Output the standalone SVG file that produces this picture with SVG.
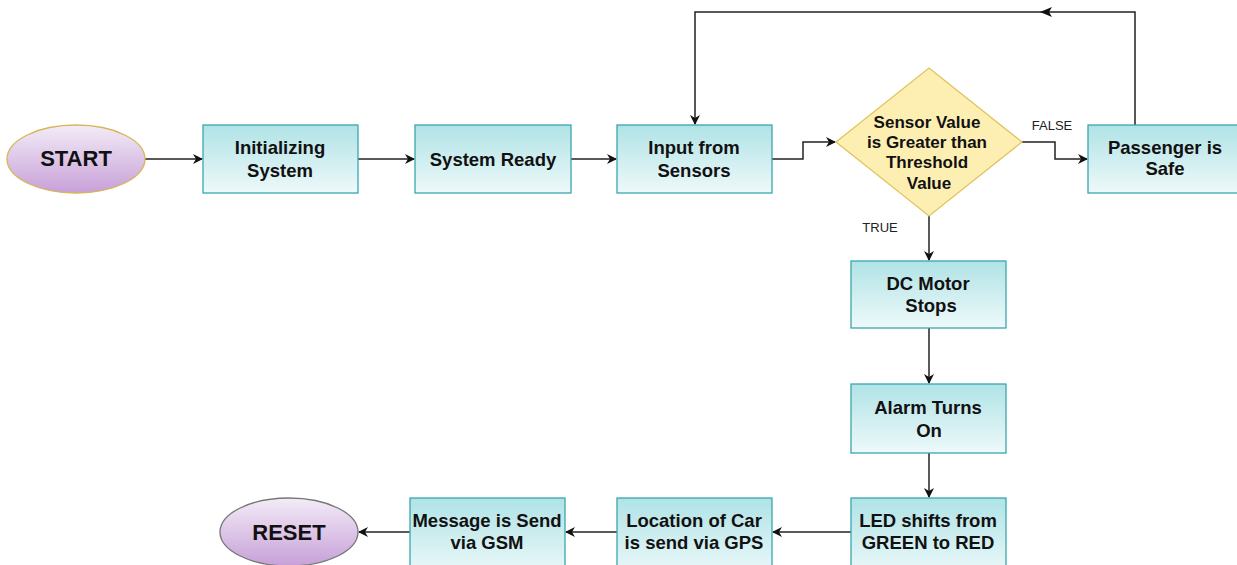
<svg xmlns="http://www.w3.org/2000/svg" width="1237" height="565" viewBox="0 0 1237 565">
<defs>
<linearGradient id="gBox" x1="0" y1="0" x2="0" y2="1">
<stop offset="0" stop-color="#b0e3e6"/>
<stop offset="1" stop-color="#eef9fa"/>
</linearGradient>
<linearGradient id="gOval" x1="0" y1="0" x2="0" y2="1">
<stop offset="0" stop-color="#f3ecf7"/>
<stop offset="1" stop-color="#c7a0d8"/>
</linearGradient>
<marker id="arr" viewBox="0 0 10 10" refX="9" refY="5" markerWidth="10" markerHeight="10" markerUnits="userSpaceOnUse" orient="auto">
<path d="M0,0 L10,5 L0,10 L3,5 Z" fill="#111"/>
</marker>
</defs>
<style>
.box{fill:url(#gBox);stroke:#3aa6ad;stroke-width:1.3}
.oval{fill:url(#gOval);stroke-width:1.3}
.dia{fill:#fdefb2;stroke:#e0c460;stroke-width:1.3}
.t{font-family:"Liberation Sans",Arial,sans-serif;font-weight:bold;font-size:18.5px;fill:#111;text-anchor:middle}
.tb{font-size:22px}
.ts{font-size:17px}
.lbl{font-family:"Liberation Sans",Arial,sans-serif;font-size:13px;fill:#222;text-anchor:middle}
.c{fill:none;stroke:#222;stroke-width:1.5;marker-end:url(#arr)}
</style>
<rect width="1237" height="565" fill="#ffffff"/>
<g id="connectors">
<path class="c" d="M145,159 L202,159"/>
<path class="c" d="M358,159 L414,159"/>
<path class="c" d="M571,159 L616,159"/>
<path class="c" d="M772,159 L803,159 L803,142 L835,142"/>
<path class="c" d="M1022,142 L1055,142 L1055,159 L1087,159"/>
<path class="c" d="M1135,125 L1135,12 L695,12 L695,124"/>
<path d="M1040,12 L1052,7 L1049,12 L1052,17 Z" fill="#111"/>
<path class="c" d="M929,216 L929,260"/>
<path class="c" d="M929,328 L929,383"/>
<path class="c" d="M929,453 L929,497"/>
<path class="c" d="M851,532 L773,532"/>
<path class="c" d="M617,532 L566,532"/>
<path class="c" d="M410,532 L359,532"/>
<text class="lbl" x="1052" y="130">FALSE</text>
<text class="lbl" x="880" y="232">TRUE</text>
</g>
<g id="start">
<ellipse class="oval" cx="76" cy="159" rx="69" ry="34" stroke="#d6b656"/>
<text class="t tb" x="76" y="166">START</text>
</g>
<g id="init">
<rect class="box" x="203" y="125" width="155" height="68"/>
<text class="t" x="280" y="154">Initializing</text>
<text class="t" x="280" y="177">System</text>
</g>
<g id="ready">
<rect class="box" x="415" y="125" width="156" height="68"/>
<text class="t" x="493" y="166">System Ready</text>
</g>
<g id="input">
<rect class="box" x="617" y="125" width="155" height="68"/>
<text class="t" x="694" y="154">Input from</text>
<text class="t" x="694" y="177">Sensors</text>
</g>
<g id="decision">
<path class="dia" d="M929,68 L1022,142 L929,216 L836,142 Z"/>
<text class="t ts" x="927" y="128">Sensor Value</text>
<text class="t ts" x="927" y="148">is Greater than</text>
<text class="t ts" x="927" y="168">Threshold</text>
<text class="t ts" x="929" y="189">Value</text>
</g>
<g id="safe">
<rect class="box" x="1088" y="125" width="160" height="68"/>
<text class="t" x="1165" y="154">Passenger is</text>
<text class="t" x="1165" y="175">Safe</text>
</g>
<g id="motor">
<rect class="box" x="851" y="261" width="155" height="67"/>
<text class="t" x="928" y="290">DC Motor</text>
<text class="t" x="931" y="312">Stops</text>
</g>
<g id="alarm">
<rect class="box" x="851" y="384" width="155" height="69"/>
<text class="t" x="928" y="414">Alarm Turns</text>
<text class="t" x="929" y="437">On</text>
</g>
<g id="led">
<rect class="box" x="851" y="498" width="155" height="80"/>
<text class="t" x="928" y="527">LED shifts from</text>
<text class="t" x="928" y="549">GREEN to RED</text>
</g>
<g id="location">
<rect class="box" x="617" y="498" width="155" height="80"/>
<text class="t" x="694" y="527">Location of Car</text>
<text class="t" x="694" y="549">is send via GPS</text>
</g>
<g id="message">
<rect class="box" x="410" y="498" width="155" height="80"/>
<text class="t" x="487" y="527">Message is Send</text>
<text class="t" x="487" y="549">via GSM</text>
</g>
<g id="reset">
<ellipse class="oval" cx="289" cy="532" rx="69" ry="34" stroke="#777"/>
<text class="t tb" x="289" y="540">RESET</text>
</g>
</svg>
